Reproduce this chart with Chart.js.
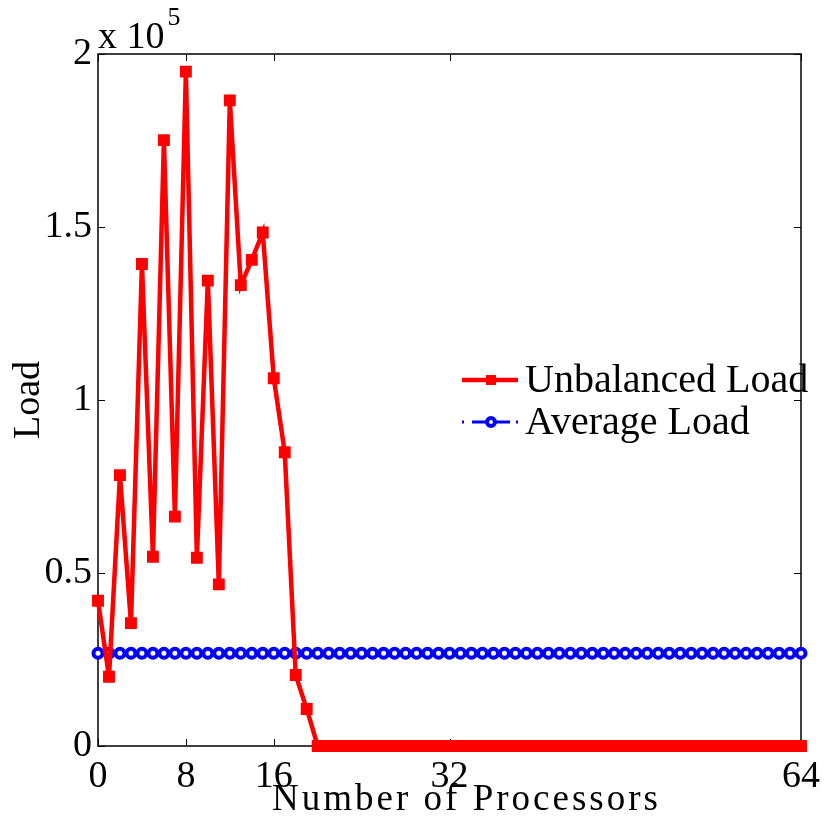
<!DOCTYPE html>
<html>
<head>
<meta charset="utf-8">
<title>Load per processor</title>
<script src="https://cdn.jsdelivr.net/npm/chart.js@4/dist/chart.umd.min.js"></script>
<style>
  html, body { margin: 0; padding: 0; background: #fff; }
  #wrap { width: 828px; height: 826px; }
</style>
</head>
<body>
<div id="wrap"><canvas id="loadChart" width="828" height="826"></canvas></div>
<script>
// processor index 0..64
const processors = [
  0, 1, 2, 3, 4, 5, 6, 7, 8, 9, 10, 11, 12, 13, 14, 15,
  16, 17, 18, 19, 20, 21, 22, 23, 24, 25, 26, 27, 28, 29, 30, 31,
  32, 33, 34, 35, 36, 37, 38, 39, 40, 41, 42, 43, 44, 45, 46, 47,
  48, 49, 50, 51, 52, 53, 54, 55, 56, 57, 58, 59, 60, 61, 62, 63, 64
];

const unbalancedLoad = [
  42000, 20000, 78300, 35500, 139300, 54700, 175100, 66300,
  194900, 54400, 134500, 46700, 186600, 133200, 140500, 148400,
  106300, 84900, 20500, 10700, 0, 0, 0, 0,
  0, 0, 0, 0, 0, 0, 0, 0,
  0, 0, 0, 0, 0, 0, 0, 0,
  0, 0, 0, 0, 0, 0, 0, 0,
  0, 0, 0, 0, 0, 0, 0, 0,
  0, 0, 0, 0, 0, 0, 0, 0, 0
];

const averageLoad = [
  26800, 26800, 26800, 26800, 26800, 26800, 26800, 26800,
  26800, 26800, 26800, 26800, 26800, 26800, 26800, 26800,
  26800, 26800, 26800, 26800, 26800, 26800, 26800, 26800,
  26800, 26800, 26800, 26800, 26800, 26800, 26800, 26800,
  26800, 26800, 26800, 26800, 26800, 26800, 26800, 26800,
  26800, 26800, 26800, 26800, 26800, 26800, 26800, 26800,
  26800, 26800, 26800, 26800, 26800, 26800, 26800, 26800,
  26800, 26800, 26800, 26800, 26800, 26800, 26800, 26800, 26800
];

const xTicks = [0, 8, 16, 32, 64];
const yTicks = [0, 50000, 100000, 150000, 200000];
const seriesNames = ['Unbalanced Load', 'Average Load'];
const xTitle = 'Number of Processors';

const SERIF = '"Liberation Serif", "DejaVu Serif", serif';

function toPoints(ys) {
  return ys.map((v, i) => ({ x: processors[i], y: v }));
}

// box, inward ticks, exponent label, x title and legend
const frame = {
  id: 'frame',
  beforeDatasetsDraw(chart) {
    const { ctx, chartArea: a, scales: { x, y } } = chart;
    ctx.save();
    ctx.strokeStyle = '#000';
    ctx.lineWidth = 1.5;
    ctx.strokeRect(a.left, a.top, a.right - a.left, a.bottom - a.top);
    ctx.lineWidth = 1;
    ctx.beginPath();
    xTicks.forEach(v => {
      const px = Math.round(x.getPixelForValue(v)) + 0.5;
      ctx.moveTo(px, a.bottom); ctx.lineTo(px, a.bottom - 7);
      ctx.moveTo(px, a.top); ctx.lineTo(px, a.top + 7);
    });
    yTicks.forEach(v => {
      const py = Math.round(y.getPixelForValue(v)) + 0.5;
      ctx.moveTo(a.left, py); ctx.lineTo(a.left + 7, py);
      ctx.moveTo(a.right, py); ctx.lineTo(a.right - 7, py);
    });
    ctx.stroke();
    ctx.restore();
  },
  afterDraw(chart) {
    const { ctx, chartArea: a } = chart;
    ctx.save();
    ctx.fillStyle = '#000';
    ctx.textBaseline = 'alphabetic';
    ctx.textAlign = 'left';
    ctx.font = '38px ' + SERIF;
    ctx.fillText('x 10', a.left, a.top - 6);
    const w = ctx.measureText('x 10').width;
    ctx.font = '26px ' + SERIF;
    ctx.fillText('5', a.left + w + 3, a.top - 29);

    // axis title, spaced out a little
    ctx.font = '37px ' + SERIF;
    ctx.letterSpacing = '3px';
    ctx.textAlign = 'center';
    ctx.fillText(xTitle, (a.left + a.right) / 2 + 17, 810);
    ctx.letterSpacing = '0px';
    ctx.textAlign = 'left';

    // legend
    const lx = 462, ly1 = 380, ly2 = 422;
    ctx.strokeStyle = 'red';
    ctx.lineWidth = 4.5;
    ctx.beginPath(); ctx.moveTo(lx, ly1); ctx.lineTo(lx + 56, ly1); ctx.stroke();
    ctx.fillStyle = 'red';
    ctx.fillRect(lx + 24, ly1 - 5, 10, 10);

    ctx.strokeStyle = 'blue';
    ctx.lineWidth = 3;
    ctx.beginPath();
    ctx.moveTo(lx, ly2); ctx.lineTo(lx + 2, ly2);
    ctx.moveTo(lx + 10, ly2); ctx.lineTo(lx + 24, ly2);
    ctx.moveTo(lx + 34, ly2); ctx.lineTo(lx + 48, ly2);
    ctx.moveTo(lx + 54, ly2); ctx.lineTo(lx + 56, ly2);
    ctx.stroke();
    ctx.lineWidth = 4;
    ctx.fillStyle = '#fff';
    ctx.beginPath(); ctx.arc(lx + 29, ly2, 4, 0, Math.PI * 2); ctx.fill(); ctx.stroke();

    ctx.fillStyle = '#000';
    ctx.font = '40px ' + SERIF;
    ctx.textBaseline = 'alphabetic';
    ctx.fillText(seriesNames[0], lx + 63, 392);
    ctx.fillText(seriesNames[1], lx + 63, 434);
    ctx.restore();
  }
};

const ctx = document.getElementById('loadChart').getContext('2d');
new Chart(ctx, {
  type: 'line',
  data: {
    datasets: [{
      label: seriesNames[0],
      data: toPoints(unbalancedLoad),
      borderColor: 'red',
      borderWidth: 4.5,
      backgroundColor: 'red',
      pointStyle: 'rect',
      pointRadius: 7,
      pointBorderWidth: 2,
      pointBorderColor: 'red',
      pointBackgroundColor: 'red',
      tension: 0,
      clip: false
    }, {
      label: seriesNames[1],
      data: toPoints(averageLoad),
      borderColor: 'blue',
      borderWidth: 2,
      borderDash: [12, 5, 2, 5],
      pointStyle: 'circle',
      pointRadius: 4.5,
      pointBorderWidth: 4,
      pointBorderColor: 'blue',
      pointBackgroundColor: '#fff',
      tension: 0,
      clip: false
    }]
  },
  options: {
    responsive: false,
    animation: false,
    events: [],
    layout: { padding: { top: 54, right: 22, left: 0, bottom: 0 } },
    plugins: {
      legend: { display: false },
      tooltip: { enabled: false }
    },
    scales: {
      x: {
        type: 'linear',
        min: 0,
        max: 64,
        afterBuildTicks: scale => { scale.ticks = xTicks.map(v => ({ value: v })); },
        afterFit: scale => { scale.height = 80; },
        grid: { display: false, drawTicks: false },
        border: { display: false },
        ticks: {
          color: '#000',
          padding: 8,
          maxRotation: 0,
          font: { family: SERIF, size: 38 }
        },
        title: { display: false }
      },
      y: {
        min: 0,
        max: 200000,
        afterBuildTicks: scale => { scale.ticks = yTicks.map(v => ({ value: v })); },
        afterFit: scale => { scale.width = 98; },
        grid: { display: false, drawTicks: false },
        border: { display: false },
        ticks: {
          color: '#000',
          padding: 6,
          font: { family: SERIF, size: 38 },
          callback: v => String(v / 100000)
        },
        title: {
          display: true,
          text: 'Load',
          color: '#000',
          padding: 6,
          font: { family: SERIF, size: 38 }
        }
      }
    }
  },
  plugins: [frame]
});
</script>
</body>
</html>
